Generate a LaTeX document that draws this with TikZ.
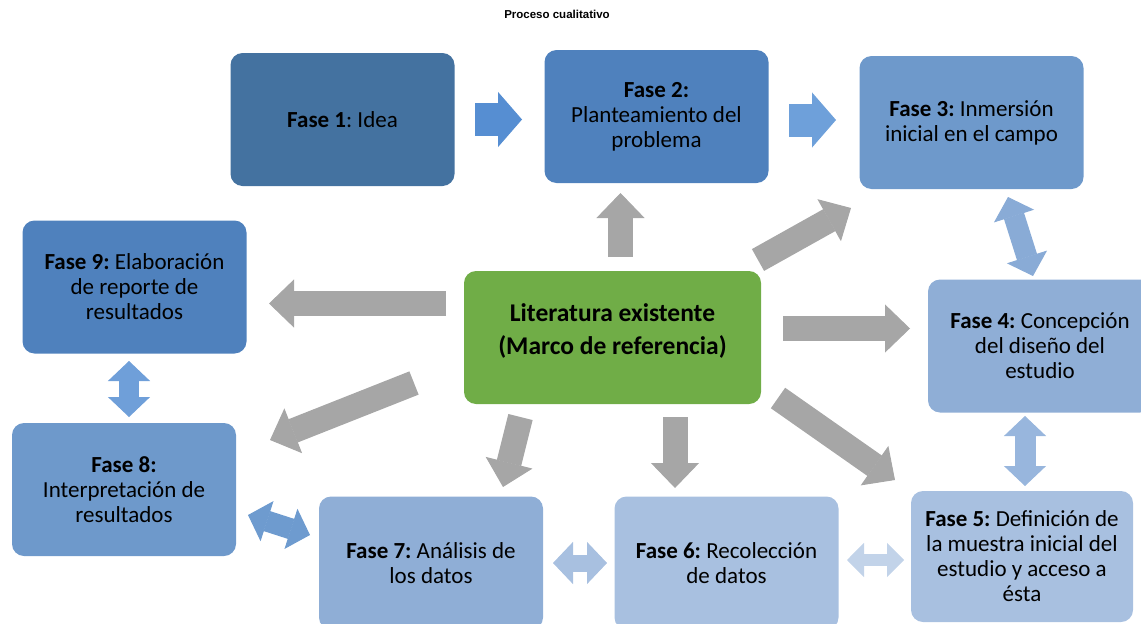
\documentclass[tikz,border=0pt]{standalone}
\usepackage{fontspec}
\setmainfont{Carlito}
\newfontfamily\titlefont{Liberation Sans}
\usetikzlibrary{arrows.meta}
\frenchspacing
\definecolor{fase_dark}{RGB}{68,114,160}
\definecolor{fase_mid}{RGB}{79,129,189}
\definecolor{fase_soft}{RGB}{110,153,203}
\definecolor{fase_light}{RGB}{143,174,214}
\definecolor{fase_pale}{RGB}{168,192,224}
\definecolor{lit_green}{RGB}{112,173,71}
\definecolor{arr_gray}{RGB}{166,166,166}
\definecolor{arr_blue}{RGB}{86,142,210}
\definecolor{arr_blue2}{RGB}{110,160,218}
\tikzstyle{fase}=[rectangle,rounded corners=12pt,inner sep=0pt,
  minimum width=224pt,minimum height=133pt,align=center,
  font=\fontsize{23}{25}\selectfont]
\tikzstyle{lit}=[rectangle,rounded corners=12pt,inner sep=0pt,fill=lit_green,
  minimum width=297pt,minimum height=133pt]
\tikzstyle{littext}=[align=center,font=\fontsize{25.5}{33}\selectfont\bfseries]
\tikzstyle{none}=[inner sep=0pt,minimum size=0pt]
\tikzstyle{grayarr}=[line width=25pt,draw=arr_gray,
  -{Triangle[length=25pt,width=48pt,line width=1pt]}]
\tikzstyle{bluearr}=[line width=33pt,
  -{Triangle[length=24pt,width=55pt,line width=1pt]}]
\tikzstyle{duoarr}=[line width=21pt,
  {Triangle[length=20pt,width=42pt,line width=1pt]}-{Triangle[length=20pt,width=42pt,line width=1pt]}]
\tikzstyle{duosmall}=[line width=12pt,
  {Triangle[length=17pt,width=34pt,line width=1pt]}-{Triangle[length=17pt,width=34pt,line width=1pt]}]

\begin{document}
\begin{tikzpicture}[x=1pt, y=-1pt]
    \clip (0, 0) rectangle (1141, 624);
    \node [style=none, font=\titlefont\bfseries\fontsize{11.5}{14}\selectfont] (title) at (557, 14) {Proceso cualitativo};
    \node [style=fase, fill=fase_dark] (f1) at (342.5, 119.5) {\textbf{Fase 1}: Idea};
    \node [style=fase, fill=fase_mid] (f2) at (656.5, 116.5) {\textbf{Fase 2:}\\Planteamiento del\\problema};
    \node [style=fase, fill=fase_soft] (f3) at (971.5, 122.5) {\textbf{Fase 3:} Inmersión\\inicial en el campo};
    \node [style=fase, fill=fase_light] (f4) at (1040, 346) {\textbf{Fase 4:} Concepción\\del diseño del\\estudio};
    \node [style=fase, fill=fase_pale, minimum height=131pt, minimum width=222pt] (f5) at (1022, 556.5) {\textbf{Fase 5:} Definición de\\la muestra inicial del\\estudio y acceso a\\ésta};
    \node [style=fase, fill=fase_pale] (f6) at (726.5, 563) {\textbf{Fase 6:} Recolección\\de datos};
    \node [style=fase, fill=fase_light] (f7) at (431, 563) {\textbf{Fase 7:} Análisis de\\los datos};
    \node [style=fase, fill=fase_soft] (f8) at (124, 489.5) {\textbf{Fase 8:}\\Interpretación de\\resultados};
    \node [style=fase, fill=fase_mid] (f9) at (134.5, 287) {\textbf{Fase 9:} Elaboración\\de reporte de\\resultados};
    \node [style=lit] (lit) at (612.5, 337.5) {};
    \node [style=littext] (littxt) at (612.5, 331) {Literatura existente\\(Marco de referencia)};
    % free ends of the block arrows
    \node [style=none] (a1) at (475, 119.5) {};
    \node [style=none] (a2) at (522, 119.5) {};
    \node [style=none] (a3) at (789, 120) {};
    \node [style=none] (a4) at (836, 120) {};
    \node [style=none] (g1) at (620.5, 257) {};
    \node [style=none] (g2) at (620.5, 193) {};
    \node [style=none] (g3) at (758, 260) {};
    \node [style=none] (g4) at (851, 208) {};
    \node [style=none] (g5) at (446, 303.5) {};
    \node [style=none] (g6) at (269, 303.5) {};
    \node [style=none] (g7) at (783, 328.5) {};
    \node [style=none] (g8) at (910, 328.5) {};
    \node [style=none] (g9) at (414, 383) {};
    \node [style=none] (g10) at (270, 440) {};
    \node [style=none] (g11) at (520.5, 417) {};
    \node [style=none] (g12) at (503, 487) {};
    \node [style=none] (g13) at (675, 417) {};
    \node [style=none] (g14) at (675, 488) {};
    \node [style=none] (g15) at (778, 398) {};
    \node [style=none] (g16) at (895, 480) {};
    \node [style=none] (d1) at (129, 361) {};
    \node [style=none] (d2) at (129, 417) {};
    \node [style=none] (d3) at (1008, 197) {};
    \node [style=none] (d4) at (1033, 276) {};
    \node [style=none] (d5) at (1025, 416) {};
    \node [style=none] (d6) at (1025, 486) {};
    \node [style=none] (d7) at (248, 515) {};
    \node [style=none] (d8) at (310, 535) {};
    \node [style=none] (d9) at (553, 563) {};
    \node [style=none] (d10) at (607, 563) {};
    \node [style=none] (d11) at (847, 560) {};
    \node [style=none] (d12) at (904, 560) {};
    \draw [style=bluearr, draw=arr_blue] (a1.center) to (a2.center);
    \draw [style=bluearr, draw=arr_blue2] (a3.center) to (a4.center);
    \draw [style=grayarr] (g1.center) to (g2.center);
    \draw [style=grayarr] (g3.center) to (g4.center);
    \draw [style=grayarr] (g5.center) to (g6.center);
    \draw [style=grayarr] (g7.center) to (g8.center);
    \draw [style=grayarr] (g9.center) to (g10.center);
    \draw [style=grayarr] (g11.center) to (g12.center);
    \draw [style=grayarr] (g13.center) to (g14.center);
    \draw [style=grayarr] (g15.center) to (g16.center);
    \draw [style=duoarr, draw=arr_blue!85!white, line width=20pt] (d1.center) to (d2.center);
    \draw [style=duoarr, draw=fase_light!90!arr_blue] (d3.center) to (d4.center);
    \draw [style=duoarr, draw=fase_pale!80!arr_blue] (d5.center) to (d6.center);
    \draw [style=duoarr, draw=fase_soft!70!arr_blue2] (d7.center) to (d8.center);
    \draw [style=duoarr, draw=fase_pale, line width=17pt] (d9.center) to (d10.center);
    \draw [style=duosmall, draw=fase_pale!70!white] (d11.center) to (d12.center);
\end{tikzpicture}
\end{document}
